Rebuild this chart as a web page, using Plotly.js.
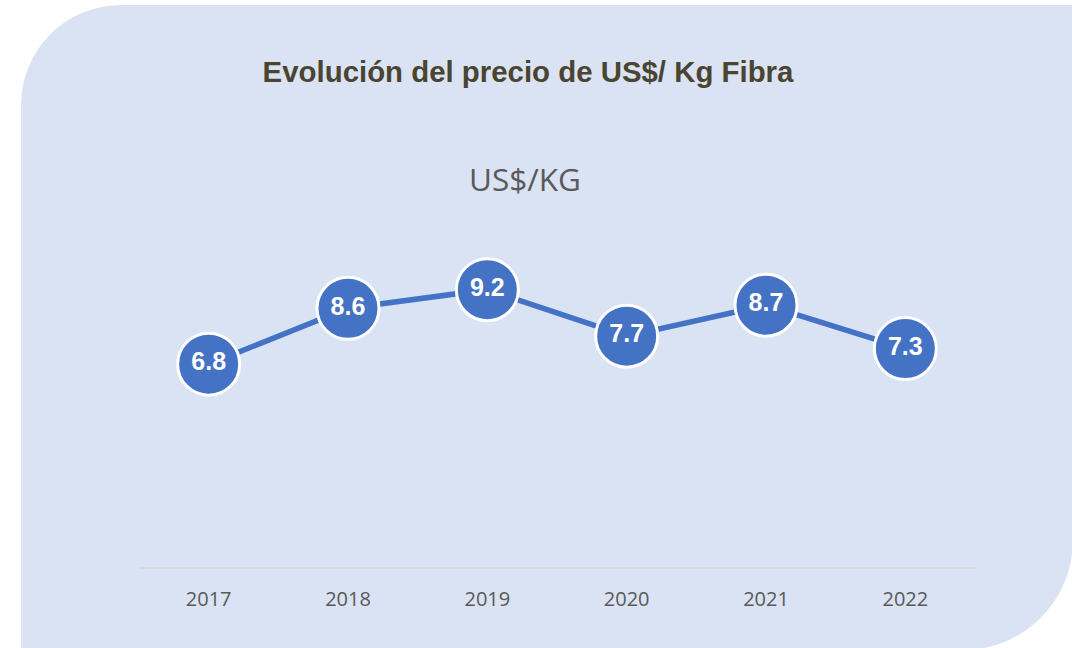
<!DOCTYPE html>
<html>
<head>
<meta charset="utf-8">
<script src="https://cdn.plot.ly/plotly-3.0.1.min.js"></script>
<style>
  html, body { margin: 0; padding: 0; width: 1072px; height: 648px; overflow: hidden; background: #ffffff; }
  #bg { position: absolute; left: 21px; top: 5px; width: 1052px; height: 645px;
        background: #dae3f3; border-radius: 100px 0 110px 0; }
  #chart { position: absolute; left: 0; top: 0; width: 1072px; height: 648px; }
</style>
</head>
<body>
<div id="bg"></div>
<div id="chart"></div>
<script>
const years = ['2017', '2018', '2019', '2020', '2021', '2022'];
const prices = [6.8, 8.6, 9.2, 7.7, 8.7, 7.3];
const labels = prices.map(v => v.toFixed(1));

const trace = {
  type: 'scatter',
  mode: 'lines+markers+text',
  x: years,
  y: prices,
  text: labels,
  textposition: 'middle center',
  textfont: { family: 'Liberation Sans, Arial, sans-serif', size: 25, color: '#ffffff', weight: 'bold' },
  line: { color: '#4472c4', width: 5.5 },
  marker: { size: 62, color: '#4472c4', line: { color: '#ffffff', width: 3 } },
  hoverinfo: 'x+y',
  cliponaxis: false
};

const layout = {
  width: 1072,
  height: 648,
  margin: { l: 138.5, r: 97, t: 263, b: 81 },
  paper_bgcolor: 'rgba(0,0,0,0)',
  plot_bgcolor: 'rgba(0,0,0,0)',
  showlegend: false,
  title: {
    text: '<b>Evolución del precio de US$/ Kg Fibra</b>',
    font: { family: 'Liberation Sans, Arial, sans-serif', size: 29.4, color: '#4a4430' },
    xref: 'container', x: 528 / 1072, xanchor: 'center',
    yref: 'container', y: 1 - 72 / 648, yanchor: 'middle'
  },
  xaxis: {
    type: 'category',
    range: [-0.5, 5.5],
    showline: true, linecolor: '#d9d9d9', linewidth: 2,
    showgrid: false, zeroline: false, ticks: '',
    ticklabelstandoff: 13,
    tickfont: { family: 'Open Sans, sans-serif', size: 20, color: '#595959' }
  },
  yaxis: {
    range: [0.26, 10.06],
    showgrid: false, zeroline: false, showline: false, showticklabels: false, ticks: ''
  },
  annotations: [{
    text: 'US$/KG',
    xref: 'paper', x: (525 - 138.5) / 836.5, xanchor: 'center',
    yref: 'paper', y: (567 - 179) / 304, yanchor: 'middle',
    showarrow: false,
    font: { family: 'Open Sans, sans-serif', size: 31.5, color: '#595959' }
  }]
};

Plotly.newPlot('chart', [trace], layout, { displayModeBar: false, staticPlot: true });
</script>
</body>
</html>
